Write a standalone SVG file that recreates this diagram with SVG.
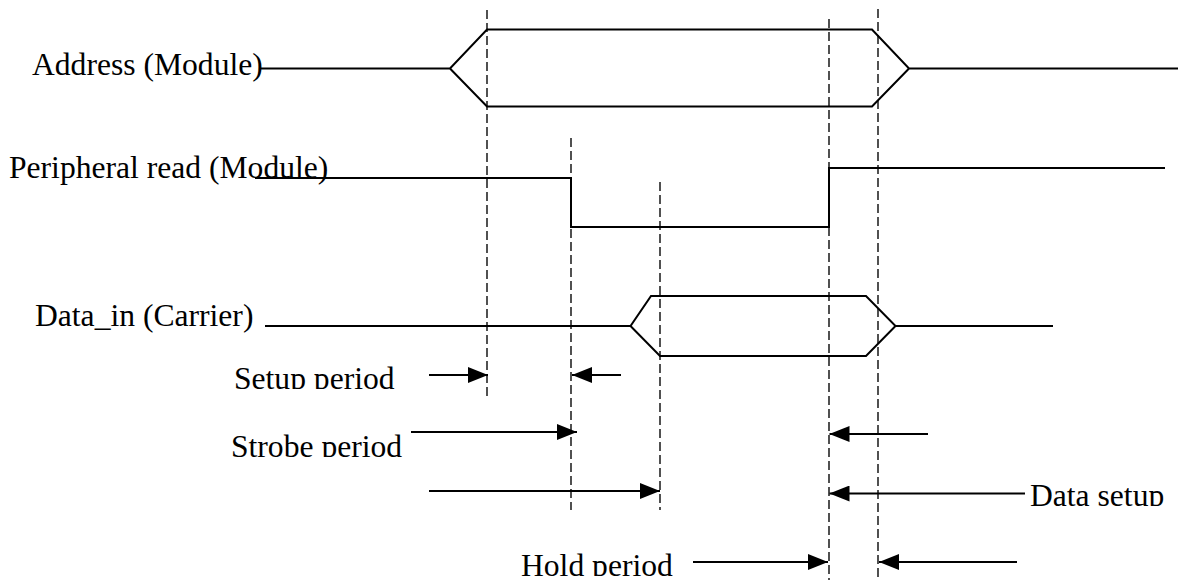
<svg xmlns="http://www.w3.org/2000/svg" width="1178" height="580" viewBox="0 0 1178 580">
  <style>
    .lbl { font-family: "Liberation Serif", "Times New Roman", serif; font-size: 31.6px; fill: #000; }
    .sig { fill: none; stroke: #000; stroke-width: 2; stroke-linejoin: miter; }
    .guide { fill: none; stroke: #333; stroke-width: 1.7; stroke-dasharray: 9 4; }
    .arr { fill: none; stroke: #000; stroke-width: 2; marker-end: url(#head); }
  </style>
  <defs>
    <marker id="head" viewBox="0 0 20 16" refX="20" refY="8" markerWidth="20" markerHeight="16" markerUnits="userSpaceOnUse" orient="auto">
      <path d="M0,0 L20,8 L0,16 Z" fill="#000"/>
    </marker>
    <!-- interval labels sit in boxes that cut off their descenders -->
    <clipPath id="clipSetup"><rect x="225" y="355" width="180" height="34"/></clipPath>
    <clipPath id="clipStrobe"><rect x="225" y="420" width="185" height="37"/></clipPath>
    <clipPath id="clipHold"><rect x="515" y="545" width="165" height="31"/></clipPath>
    <clipPath id="clipData"><rect x="1028" y="475" width="150" height="31"/></clipPath>
  </defs>

  <rect width="1178" height="580" fill="#fff"/>

  <!-- timing reference guides -->
  <g id="guides">
    <line class="guide" x1="487" y1="10" x2="487" y2="397"/>
    <line class="guide" x1="571" y1="138" x2="571" y2="510"/>
    <line class="guide" x1="660" y1="182" x2="660" y2="510"/>
    <line class="guide" x1="829" y1="19" x2="829" y2="580"/>
    <line class="guide" x1="878" y1="9" x2="878" y2="580"/>
  </g>

  <g id="address">
    <text class="lbl" x="32" y="74.5">Address (Module)</text>
    <path class="sig" d="M260,68.5 H450 L487,29.5 H872 L909,68.5 H1178 M450,68.5 L487,106.5 H872 L909,68.5"/>
  </g>

  <g id="peripheral-read">
    <text class="lbl" x="9" y="177.5">Peripheral read (Module)</text>
    <path class="sig" d="M255,178 H571 V227 H829 V168 H1165"/>
  </g>

  <g id="data-in">
    <text class="lbl" x="35" y="326">Data_in (Carrier)</text>
    <path class="sig" d="M265,326 H630.5 L651,296 H866 L895.5,326 H1053 M630.5,326 L660,356 H866 L895.5,326"/>
  </g>

  <g id="setup-period">
    <text class="lbl" x="234" y="389" clip-path="url(#clipSetup)">Setup period</text>
  </g>
  <g id="strobe-period">
    <text class="lbl" x="231" y="456.5" clip-path="url(#clipStrobe)">Strobe period</text>
  </g>
  <g id="data-setup">
    <text class="lbl" x="1030" y="505.5" clip-path="url(#clipData)">Data setup</text>
  </g>
  <g id="hold-period">
    <text class="lbl" x="521" y="576" clip-path="url(#clipHold)">Hold period</text>
  </g>

  <!-- interval arrows -->
  <g id="connectors">
    <line class="arr" x1="429" y1="375" x2="488" y2="375"/>
    <line class="arr" x1="621" y1="375" x2="572" y2="375"/>
    <line class="arr" x1="411" y1="432" x2="577" y2="432"/>
    <line class="arr" x1="429" y1="491" x2="660" y2="491"/>
    <line class="arr" x1="928" y1="434" x2="829.5" y2="434"/>
    <line class="arr" x1="1025" y1="493.5" x2="829.5" y2="493.5"/>
    <line class="arr" x1="693" y1="562" x2="828" y2="562"/>
    <line class="arr" x1="1017" y1="562" x2="879" y2="562"/>
  </g>
</svg>
